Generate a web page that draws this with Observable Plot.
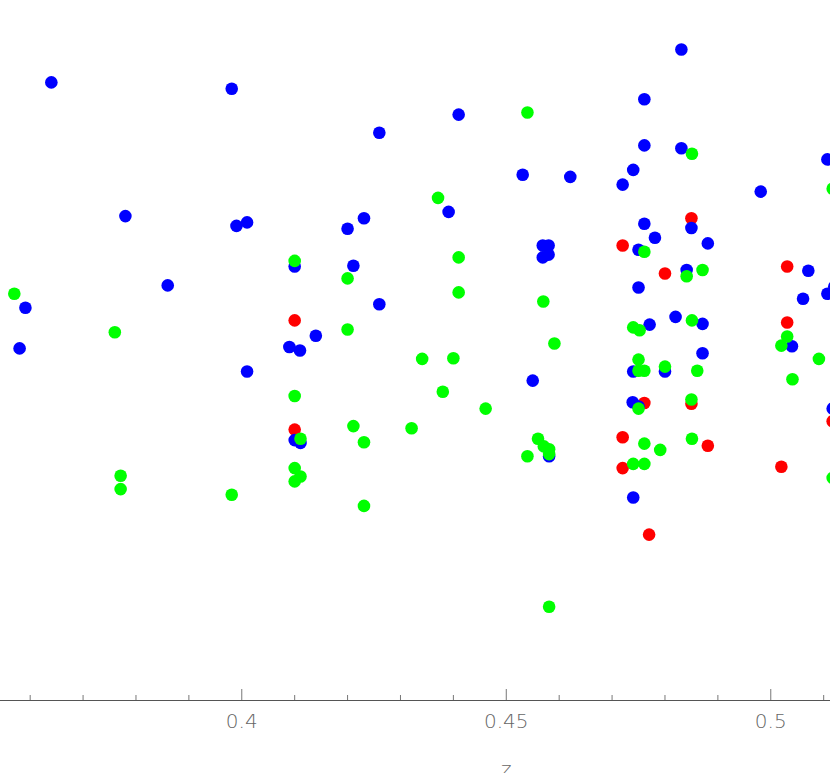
<!DOCTYPE html>
<html>
<head>
<meta charset="utf-8">
<script src="https://cdn.jsdelivr.net/npm/d3@7"></script>
<script src="https://cdn.jsdelivr.net/npm/@observablehq/plot@0.6"></script>
<style>
  html, body { margin: 0; padding: 0; background: #ffffff; }
  #chart svg { display: block; }
</style>
</head>
<body>
<div id="chart"></div>
<script>
// ---- data (z = redshift on x, y = arbitrary vertical quantity 0..100) ----
const blueZ = [0.3640,0.3981,0.4260,0.3780,0.3990,0.4010,0.4200,0.4231,0.4100,0.4211,
               0.3860,0.3591,0.4260,0.4140,0.4090,0.4110,0.3580,0.4010,0.4100,0.4111,
               0.4550,0.4581,0.4831,0.4761,0.4410,0.4761,0.4831,0.5107,0.4531,0.4621,
               0.4740,0.4720,0.4981,0.4391,0.4761,0.4850,0.4781,0.4881,0.4569,0.4580,
               0.4569,0.4580,0.4750,0.4841,0.5071,0.4750,0.5107,0.5120,0.5061,0.4820,
               0.4871,0.4771,0.5040,0.4871,0.4740,0.4800,0.4739,0.4750,0.5117,0.4740];
const blueY = [88.3,87.4,81.1,69.2,67.8,68.3,67.4,68.9,62.0,62.1,
               59.3,56.1,56.6,52.1,50.5,50.0,50.3,47.0,37.2,36.8,
               45.7,34.9,93.0,85.9,83.7,79.3,78.9,77.3,75.1,74.8,
               75.8,73.7,72.7,69.8,68.1,67.5,66.1,65.3,65.0,65.0,
               63.3,63.7,64.4,61.5,61.4,59.0,58.1,59.1,57.4,54.8,
               53.8,53.7,50.6,49.6,47.0,47.0,42.6,42.0,41.7,29.0];

const greenZ = [0.4100,0.4200,0.3570,0.3760,0.4200,0.4540,0.4851,0.5117,0.4371,0.4761,
                0.4841,0.4871,0.4410,0.4410,0.4570,0.4851,0.4740,0.4752,0.5031,0.5020,
                0.4591,0.4341,0.4400,0.4750,0.5091,0.3771,0.3771,0.3981,0.4100,0.4380,
                0.4461,0.4211,0.4321,0.4231,0.4111,0.4100,0.4111,0.4100,0.4231,0.4540,
                0.4560,0.4571,0.4581,0.4581,0.4581,0.5041,0.4750,0.4761,0.4800,0.4861,
                0.4750,0.4850,0.4761,0.4791,0.4851,0.4740,0.4761,0.5117];
const greenY = [62.8,60.3,58.1,52.6,53.0,84.0,78.1,73.1,71.8,64.1,
                60.6,61.5,63.3,58.3,57.0,54.3,53.3,52.9,52.0,50.7,
                51.0,48.8,48.9,48.7,48.8,32.1,30.2,29.4,43.5,44.1,
                41.7,39.2,38.9,36.9,37.4,33.2,32.0,31.3,27.8,34.9,
                37.4,36.3,35.9,35.2,13.4,45.9,47.1,47.1,47.7,47.1,
                41.7,43.0,36.7,35.8,37.4,33.8,33.8,31.8];

const redZ = [0.4100,0.4850,0.4720,0.4800,0.5031,0.5031,0.4100,0.4761,0.4850,0.5117,
              0.4720,0.4881,0.4720,0.5020,0.4770];
const redY = [54.3,68.9,65.0,61.0,62.0,54.0,38.7,42.5,42.4,39.9,
              37.6,36.4,33.2,33.4,23.7];

const majorTicks = [0.40, 0.45, 0.50];
const tickLabels = ["0.4", "0.45", "0.5"];
const minorTicks = [0.36,0.37,0.38,0.39,0.41,0.42,0.43,0.44,0.46,0.47,0.48,0.49,0.51];
const axisTitle = "z";
const axisTitleAt = 0.45;
const xDomain = [0.35439, 0.51129];
const yDomain = [0, 100];

const rows = (zs, ys) => zs.map((z, i) => ({z, y: ys[i]}));
const red = rows(redZ, redY), blue = rows(blueZ, blueY), green = rows(greenZ, greenY);

const chart = Plot.plot({
  width: 830,
  height: 773,
  marginLeft: 0,
  marginRight: 0,
  marginTop: 0,
  marginBottom: 73,
  style: {fontFamily: "DejaVu Sans", background: "#ffffff", overflow: "hidden"},
  x: {domain: xDomain, label: null},
  y: {domain: yDomain, axis: null, label: null},
  marks: [
    Plot.ruleY([0], {stroke: "#555555", strokeWidth: 1}),
    Plot.axisX(minorTicks, {tickSize: 5, dy: -5, tickFormat: () => "", stroke: "#777777", label: null}),
    Plot.axisX(majorTicks, {tickSize: 11, dy: -11, tickFormat: () => "", stroke: "#777777", label: null}),
    Plot.text(majorTicks, {x: d => d, text: (d, i) => tickLabels[i], frameAnchor: "bottom",
      dy: 13, lineAnchor: "top", fontSize: 20, fontWeight: 300, fill: "#666666"}),
    Plot.text([axisTitle], {x: () => axisTitleAt, frameAnchor: "bottom", dy: 75,
      lineAnchor: "bottom", fontSize: 20, fontWeight: 300, fill: "#666666"}),
    Plot.dot(red, {x: "z", y: "y", r: 6.3, fill: "#ff0000", clip: true}),
    Plot.dot(blue, {x: "z", y: "y", r: 6.3, fill: "#0000ff", clip: true}),
    Plot.dot(green, {x: "z", y: "y", r: 6.3, fill: "#00ff00", clip: true})
  ]
});
document.getElementById("chart").appendChild(chart);
</script>
</body>
</html>
